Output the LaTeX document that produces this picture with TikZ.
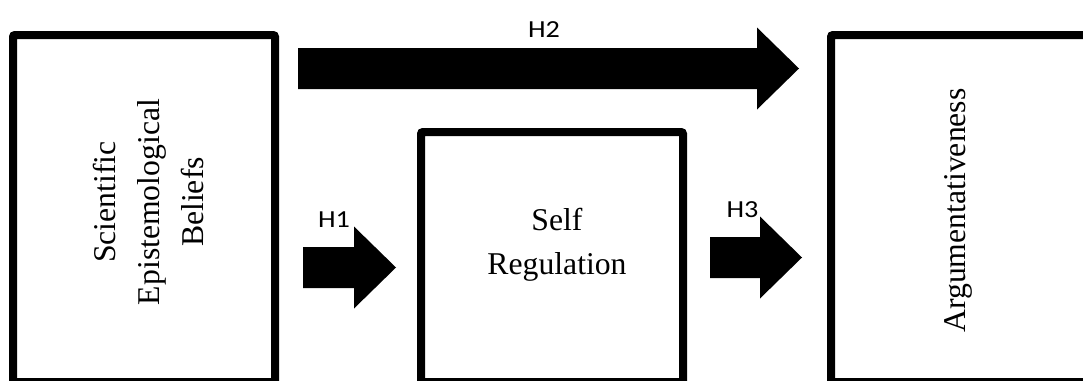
\documentclass[tikz,border=0pt]{standalone}
\usepackage{fontspec}
\setmainfont{Liberation Serif}
\newfontfamily\labelfont{Carlito}
\usetikzlibrary{calc}
\newcommand{\widelabel}[1]{\scalebox{1.15}[1]{#1}}
\begin{document}
\begin{tikzpicture}[x=1pt,y=-1pt,
  box/.style={draw=black, line width=8pt, rounded corners=2pt, minimum width=262pt, inner sep=0pt},
  boxtext/.style={font=\fontsize{31.7}{44}\selectfont, align=center, inner sep=0pt},
  hlabel/.style={font=\labelfont\fontsize{24.5}{24.5}\selectfont, inner sep=0pt},
  blockarrow/.style={fill=black, to path={let \p1=(\tikztostart), \p2=(\tikztotarget) in
    (\x1,\y1+20.5pt) -- (\x2-42pt,\y1+20.5pt) -- (\x2-42pt,\y1+41pt) -- (\x2,\y2)
    -- (\x2-42pt,\y1-41pt) -- (\x2-42pt,\y1-20.5pt) -- (\x1,\y1-20.5pt) -- cycle}}
]
\useasboundingbox (0,0) rectangle (1083,380);
\fill[white] (0,0) rectangle (1083,380);
\clip (0,0) rectangle (1083,380);

% boxes
\node[box, minimum height=347pt] (seb) at (144,208.5) {};
\node[box, minimum height=250pt] (sr) at (552,257) {};
\node[box, minimum height=347pt] (arg) at (962,208.5) {};

% texts
\node[boxtext, rotate=90] (sebt) at (148,202) {Scientific\\Epistemological\\Beliefs};
\node[boxtext] (srt) at (557,245) {Self\\Regulation};
\node[boxtext, rotate=90] (argt) at (958,210.5) {Argumentativeness};

% arrows
\coordinate (h1s) at (303,267.5);
\coordinate (h1e) at (396,267.5);
\coordinate (h2s) at (298,68.5);
\coordinate (h2e) at (799,68.5);
\coordinate (h3s) at (710,257.5);
\coordinate (h3e) at (802,257.5);
\path[blockarrow] (h1s) to (h1e);
\path[blockarrow] (h2s) to (h2e);
\path[blockarrow] (h3s) to (h3e);

% labels
\node[hlabel] (h1) at (334,219.5) {\widelabel{H1}};
\node[hlabel] (h2) at (544,29.5) {\widelabel{H2}};
\node[hlabel] (h3) at (742.5,209.5) {\widelabel{H3}};
\end{tikzpicture}
\end{document}
